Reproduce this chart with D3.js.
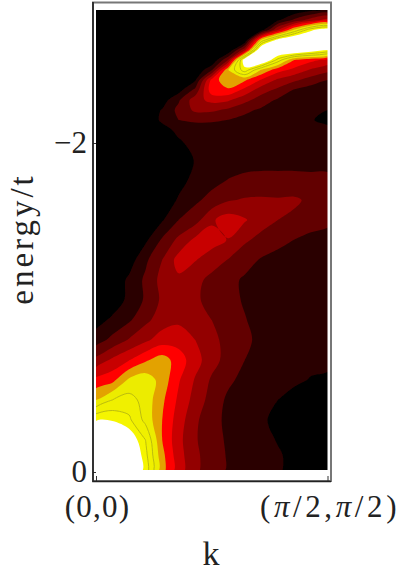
<!DOCTYPE html>
<html>
<head>
<meta charset="utf-8">
<script src="https://d3js.org/d3.v7.min.js"></script>
<style>
  html, body { margin: 0; padding: 0; background: #fff; }
  svg { display: block; }
  .axis text, .title { font-family: "Liberation Serif", serif; fill: #222; }
  .axis text { font-size: 31px; }
</style>
</head>
<body>
<script>
const WIDTH = 399, HEIGHT = 577;

// grid positions along the horizontal axis (0 = (0,0), 1 = (pi/2,pi/2))
const kValues = [0, .071, .143, .214, .286, .357, .429, .5, .571, .643, .714, .786, .857, .929, 1];
// energy of each row, denser near the thin ridge at the top
const energyValues = [-2.809, -2.748, -2.687, -2.626, -2.565, -2.505, -2.444, -2.383, -2.322, -2.261, -2.201,
  -2.14, -2.079, -2.018, -1.897, -1.775, -1.653, -1.532, -1.41, -1.289, -1.167, -1.046, -.924, -.802, -.681,
  -.559, -.438, -.316, -.195, -.103, -.012];
// intensity, one line per energy row
const intensity = [
  [0,0,0,0,0,0,0,0,0,0,0,0,.2,.7,1.2],
  [0,0,0,0,0,0,0,0,0,0,0,.8,2.2,3.5,4.4],
  [0,0,0,0,0,0,0,0,0,0,.5,4,7.2,9.8,11],
  [0,0,0,0,0,0,0,0,0,0,7.2,10.5,12,12,12],
  [0,0,0,0,0,0,0,0,0,3.8,12,12,12,11,10],
  [0,0,0,0,0,0,0,0,3,11,12,8.6,6,5.3,4.7],
  [0,0,0,0,0,0,0,1.9,7,9.6,6.9,5.4,4.7,3.85,3.3],
  [0,0,0,0,0,0,.9,5.3,6.9,6.15,4.9,3.8,3.2,2.55,2],
  [0,0,0,0,0,.6,2.3,5.6,5.8,4.7,3.45,2.75,1.9,1.5,1.3],
  [0,0,0,0,.5,1.85,3.6,4.3,4.15,3.3,2.5,1.85,1.45,1.25,1.15],
  [0,0,0,.5,1.05,2.3,3.2,3.2,2.8,2.2,1.85,1.55,1.3,1.15,1],
  [0,0,0,.4,1.15,2,2.2,2.15,1.98,1.75,1.5,1.3,1.15,1.05,.8],
  [0,0,0,.1,.7,1.2,1.4,1.5,1.55,1.5,1.45,1.35,1.3,1.2,1.2],
  [0,0,0,0,.3,.95,1.25,1.4,1.5,1.5,1.5,1.45,1.4,1.35,1.35],
  [0,0,0,0,.1,.55,1.05,1.3,1.5,1.65,1.7,1.7,1.7,1.7,1.7],
  [0,0,0,0,.2,.7,1.25,1.65,2.03,2.2,2.25,2.25,2.25,2.2,2.2],
  [0,0,0,0,.4,1.1,1.8,2.35,2.9,3.1,3.15,3.1,3.15,2.8,2.6],
  [0,0,0,0,.9,2,2.6,3.85,4.5,4.1,3.4,3,2.8,2.4,2.25],
  [0,0,0,.8,2.15,3.25,4.25,4.4,3.95,3.15,2.7,2.35,1.98,1.75,1.6],
  [0,0,.5,1.8,3,4.4,4.05,3.5,2.95,2.4,1.9,1.6,1.45,1.35,1.3],
  [0,.3,1.2,2.2,3.35,3.8,3.3,2.7,2.3,1.85,1.6,1.5,1.4,1.35,1.3],
  [.1,.4,1.25,2.15,3.2,3.4,3.15,2.7,2.3,1.9,1.6,1.5,1.4,1.35,1.3],
  [.6,1.2,1.85,2.75,3.5,3.8,3.5,3,2.5,2.05,1.65,1.5,1.4,1.35,1.3],
  [1.5,2.3,3.1,3.8,4.5,4.6,4,3.25,2.7,2.2,1.75,1.55,1.4,1.35,1.3],
  [3.3,4.2,4.95,5.85,6.5,5.5,4.4,3.4,2.6,2,1.6,1.4,1.3,1.2,1.15],
  [5.3,5.7,7.2,7.6,6.6,5.1,3.9,2.85,2.2,1.7,1.5,1.3,1.15,.95,.9],
  [7,8,8.4,7.6,6.2,4.8,3.6,2.6,1.8,1.5,1.3,1,.7,.55,.45],
  [9.9,9.9,9.2,7.7,6,4.5,3.2,2.3,1.8,1.5,1.15,.75,.6,.45,.4],
  [12,12,11,9,6,4.3,3.1,2.4,1.85,1.55,1.25,.95,.75,.55,.45],
  [12,12,12,9.3,6.3,4.4,3.2,2.5,1.9,1.65,1.35,1.08,.8,.6,.5],
  [12,12,12,9.6,6.4,4.5,3.2,2.5,1.9,1.65,1.35,1.08,.8,.6,.5]
];
const levels = [1, 2, 3, 4, 5, 6, 7, 8, 9, 10];
const levelColors = ["#2b0000", "#620000", "#930000", "#c80000", "#ff0000", "#e3a200", "#ecec00", "#f0f000", "#f5f500", "#ffffff"];
const energyTicks = [-2, 0];
const energyTickLabels = ["\u22122", "0"];
const kTicks = [0, 1];
const kTickLabels = ["(0,0)", "(<tspan font-style='italic'>\u03c0</tspan>/2,<tspan font-style='italic'>\u03c0</tspan>/2)"];

var svg = d3.select("body").append("svg")
  .attr("width", WIDTH)
  .attr("height", HEIGHT);

svg.append("rect").attr("width", WIDTH).attr("height", HEIGHT).attr("fill", "#fff");

var kScale = d3.scaleLinear().domain([0, 1]).range([96, 327.5]);
var energyScale = d3.scaleLinear().domain([-2, 0]).range([143, 472]);

// contour coordinates are in grid cells, values sit at cell centres
var colToK = d3.scaleLinear().domain(d3.range(kValues.length)).range(kValues).clamp(true);
var rowToEnergy = d3.scaleLinear().domain(d3.range(energyValues.length)).range(energyValues).clamp(true);

var plotX0 = kScale(0), plotX1 = kScale(1);
var plotY0 = energyScale(energyValues[0]), plotY1 = energyScale(energyValues[energyValues.length - 1]);

var contours = d3.contours()
  .size([kValues.length, energyValues.length])
  .thresholds(levels)
  .smooth(true)(intensity.flat());

// outer grid points are pushed out of the plot, the clip cuts them off again
function toPixel(p) {
  var x = kScale(colToK(p[0] - .5));
  var y = energyScale(rowToEnergy(p[1] - .5));
  if (p[0] <= 0) x -= 12;
  if (p[0] >= kValues.length) x += 12;
  if (p[1] <= 0) y -= 12;
  if (p[1] >= energyValues.length) y += 12;
  return [x, y];
}

var ringLine = d3.line().curve(d3.curveCatmullRomClosed.alpha(.5));

function contourPath(d) {
  var out = "";
  d.coordinates.forEach(function(polygon) {
    polygon.forEach(function(ring) {
      out += ringLine(ring.slice(0, -1).map(toPixel));
    });
  });
  return out;
}

var defs = svg.append("defs");
defs.append("clipPath").attr("id", "plot-clip")
  .append("rect")
  .attr("x", plotX0).attr("y", plotY0)
  .attr("width", plotX1 - plotX0).attr("height", plotY1 - plotY0);
defs.append("filter").attr("id", "soft")
  .append("feGaussianBlur").attr("stdDeviation", .5);

// frame
svg.append("rect")
  .attr("x", 93).attr("y", 2.5)
  .attr("width", 238).attr("height", 478.5)
  .attr("fill", "#fff")
  .attr("stroke", "#777")
  .attr("stroke-width", 2);

var plot = svg.append("g").attr("clip-path", "url(#plot-clip)");
var marks = plot.append("g").attr("filter", "url(#soft)");

marks.append("rect")
  .attr("x", plotX0 - 12).attr("y", plotY0 - 12)
  .attr("width", plotX1 - plotX0 + 24)
  .attr("height", plotY1 - plotY0 + 24)
  .attr("fill", "#000");

marks.selectAll("path")
  .data(contours)
  .enter()
  .append("path")
  .attr("d", contourPath)
  .attr("fill", function(d, i) { return levelColors[i]; })
  .attr("fill-rule", "evenodd")
  .attr("stroke", function(d) { return d.value == 8 || d.value == 9 ? "#aeae10" : "none"; })
  .attr("stroke-width", .8);

var yAxis = d3.axisLeft(energyScale)
  .tickValues(energyTicks)
  .tickSize(-3)
  .tickPadding(6)
  .tickFormat(function(d, i) { return energyTickLabels[i]; });
var yAxisGroup = svg.append("g").attr("class", "axis")
  .attr("transform", "translate(93,0)")
  .call(yAxis);

var xAxis = d3.axisBottom(kScale)
  .tickValues(kTicks)
  .tickSize(-5)
  .tickPadding(14)
  .tickFormat(function(d, i) { return kTickLabels[i]; });
var xAxisGroup = svg.append("g").attr("class", "axis")
  .attr("transform", "translate(0,481)")
  .call(xAxis);
xAxisGroup.selectAll("text")
  .html(function(d, i) { return kTickLabels[i]; })
  .attr("letter-spacing", function(d, i) { return i == 0 ? 1.2 : 3.6; })
  .attr("x", function(d, i) { return i == 0 ? 1 : 2; });

// the axis lines only cover the left and bottom sides of the frame
yAxisGroup.select(".domain").remove();
xAxisGroup.select(".domain").remove();
svg.append("path").attr("d", "M93,2V481.5H331").attr("fill", "none").attr("stroke", "#222").attr("stroke-width", 1.6);
svg.selectAll(".axis .tick line").attr("stroke", "#333");

svg.append("text")
  .attr("class", "title")
  .attr("x", 211).attr("y", 565)
  .attr("text-anchor", "middle")
  .attr("font-size", 34)
  .text("k");

svg.append("text")
  .attr("class", "title")
  .attr("transform", "translate(33,239) rotate(-90)")
  .attr("text-anchor", "middle")
  .attr("font-size", 33)
  .attr("letter-spacing", 3)
  .text("energy/t");
</script>
</body>
</html>
